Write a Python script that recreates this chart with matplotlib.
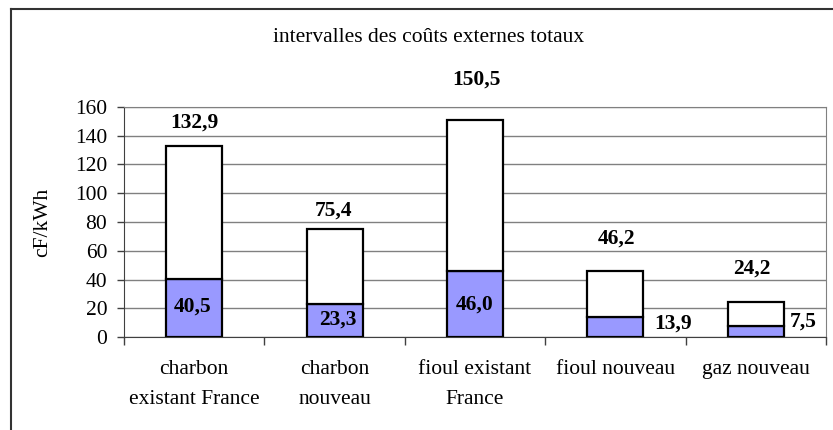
import numpy as np
import matplotlib
matplotlib.use('Agg')
import matplotlib.pyplot as plt
from matplotlib.lines import Line2D

plt.rcParams['font.family'] = ['Liberation Serif', 'DejaVu Serif']

# Data
categories = ['charbon\nexistant France', 'charbon\nnouveau', 'fioul existant\nFrance',
              'fioul nouveau', 'gaz nouveau']
low_values = [40.5, 23.3, 46.0, 13.9, 7.5]
high_values = [132.9, 75.4, 150.5, 46.2, 24.2]

# Label placement (manually positioned in the original chart), in data units
high_label_pos = [(0.0, 148.9), (0.99, 87.6), (2.01, 178.6), (3.01, 68.2), (3.97, 47.9)]
low_label_pos = [(-0.01, 21.2), (1.02, 12.0), (2.0, 22.9), (3.41, 9.7), (4.34, 10.8)]

fig = plt.figure(figsize=(8.33, 4.30), dpi=100)
ax = fig.add_axes([124 / 833, 92.7 / 430, 702 / 833, 230.6 / 430])

x = np.arange(len(categories))
width = 0.4
tops = np.array(high_values) - np.array(low_values)

ax.bar(x, low_values, width, color='#9999FF', edgecolor='black', linewidth=1.6, zorder=3)
ax.bar(x, tops, width, bottom=low_values, color='white', edgecolor='black',
       linewidth=1.6, zorder=3)

for (px, py), v in zip(high_label_pos, high_values):
    ax.text(px, py, f'{v:.1f}'.replace('.', ','), ha='center', va='center',
            fontsize=15.5, fontweight='bold', clip_on=False, zorder=4)
for (px, py), v in zip(low_label_pos, low_values):
    ax.text(px, py, f'{v:.1f}'.replace('.', ','), ha='center', va='center',
            fontsize=15.5, fontweight='bold', clip_on=False, zorder=4)

ax.set_xlim(-0.5, len(categories) - 0.5)
ax.set_ylim(0, 160)
ax.set_yticks(np.arange(0, 161, 20))
ax.grid(axis='y', color='#808080', linewidth=1, zorder=0)
ax.set_axisbelow(True)

ax.set_xticks(x)
ax.set_xticklabels(categories, fontsize=15.5, linespacing=1.75)
ax.set_xticks(np.arange(-0.5, len(categories)), minor=True)
ax.tick_params(axis='x', which='major', length=0, pad=16.5)
ax.tick_params(axis='x', which='minor', length=6, width=1, color='#404040')
ax.tick_params(axis='y', length=5, width=1, color='#404040', pad=7, labelsize=15.5)

for side in ['top', 'right']:
    ax.spines[side].set_color('#808080')
for side in ['left', 'bottom']:
    ax.spines[side].set_color('#404040')

ax.set_ylabel('cF/kWh', fontsize=15.5)
ax.yaxis.set_label_coords(-0.1026, 0.5)

fig.text(0.515, 1 - 37 / 430, 'intervalles des coûts externes totaux', ha='center',
         va='center', fontsize=15.5)

# outer chart frame (left and top edges visible)
fig.add_artist(Line2D([11 / 833, 11 / 833], [0, 1 - 9 / 430], transform=fig.transFigure,
                      color='#333333', linewidth=1.5))
fig.add_artist(Line2D([11 / 833, 1], [1 - 9 / 430, 1 - 9 / 430], transform=fig.transFigure,
                      color='#333333', linewidth=1.5))

fig.savefig('out.png', dpi=100)
plt.close(fig)
